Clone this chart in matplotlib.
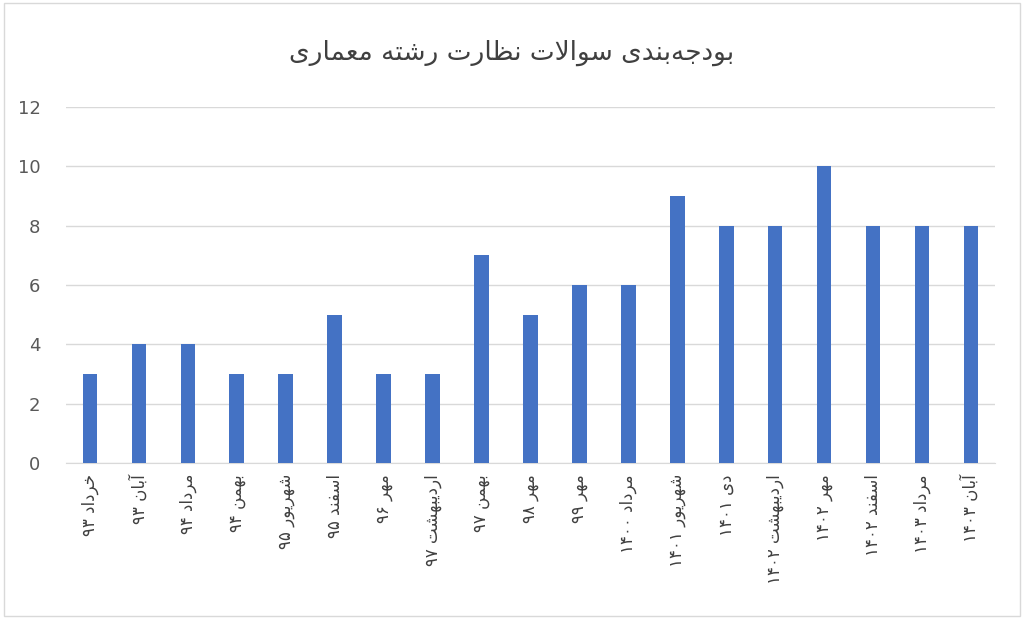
import matplotlib
matplotlib.use("Agg")
import matplotlib.pyplot as plt
from matplotlib.patches import Rectangle

labels = ["خرداد ۹۳", "آبان ۹۳", "مرداد ۹۴", "بهمن ۹۴", "شهریور ۹۵", "اسفند ۹۵", "مهر ۹۶",
          "اردیبهشت ۹۷", "بهمن ۹۷", "مهر ۹۸", "مهر ۹۹", "مرداد ۱۴۰۰", "شهریور ۱۴۰۱", "دی ۱۴۰۱",
          "اردیبهشت ۱۴۰۲", "مهر ۱۴۰۲", "اسفند ۱۴۰۲", "مرداد ۱۴۰۳", "آبان ۱۴۰۳"]
values = [3, 4, 4, 3, 3, 5, 3, 3, 7, 5, 6, 6, 9, 8, 8, 10, 8, 8, 8]
title = "بودجه\u200cبندی سوالات نظارت رشته معماری"

FORMS = {
    'ا': (0xFE8D, 0xFE8E, None, None), 'آ': (0xFE81, 0xFE82, None, None),
    'ب': (0xFE8F, 0xFE90, 0xFE91, 0xFE92), 'پ': (0xFB56, 0xFB57, 0xFB58, 0xFB59),
    'ت': (0xFE95, 0xFE96, 0xFE97, 0xFE98), 'ج': (0xFE9D, 0xFE9E, 0xFE9F, 0xFEA0),
    'خ': (0xFEA5, 0xFEA6, 0xFEA7, 0xFEA8), 'د': (0xFEA9, 0xFEAA, None, None),
    'ر': (0xFEAD, 0xFEAE, None, None), 'ز': (0xFEAF, 0xFEB0, None, None),
    'س': (0xFEB1, 0xFEB2, 0xFEB3, 0xFEB4), 'ش': (0xFEB5, 0xFEB6, 0xFEB7, 0xFEB8),
    'ظ': (0xFEC5, 0xFEC6, 0xFEC7, 0xFEC8), 'ع': (0xFEC9, 0xFECA, 0xFECB, 0xFECC),
    'ف': (0xFED1, 0xFED2, 0xFED3, 0xFED4), 'ل': (0xFEDD, 0xFEDE, 0xFEDF, 0xFEE0),
    'م': (0xFEE1, 0xFEE2, 0xFEE3, 0xFEE4), 'ن': (0xFEE5, 0xFEE6, 0xFEE7, 0xFEE8),
    'ه': (0xFEE9, 0xFEEA, 0xFEEB, 0xFEEC), 'و': (0xFEED, 0xFEEE, None, None),
    'ی': (0xFBFC, 0xFBFD, 0xFBFE, 0xFBFF),
    'ﻻ': (0xFEFB, 0xFEFC, None, None),
}

def shape_word(w):
    w = w.replace('لا', 'ﻻ')
    out = []
    for i, c in enumerate(w):
        if c not in FORMS:
            if c != '\u200c':
                out.append(c)
            continue
        prev = w[i - 1] if i > 0 else None
        nxt = w[i + 1] if i + 1 < len(w) else None
        jp = prev in FORMS and FORMS[prev][2] is not None
        jn = FORMS[c][2] is not None and nxt in FORMS
        f = FORMS[c]
        if jp and jn:
            code = f[3]
        elif jp:
            code = f[1]
        elif jn:
            code = f[2]
        else:
            code = f[0]
        out.append(chr(code))
    return ''.join(out)

def rtl(s):
    toks = []
    for t in s.split(' '):
        if t and all(ch in '۰۱۲۳۴۵۶۷۸۹0123456789' for ch in t):
            toks.append(t)
        else:
            toks.append(shape_word(t)[::-1])
    return ' '.join(toks[::-1])

plt.rcParams['font.family'] = ['DejaVu Sans']
fig = plt.figure(figsize=(10.24, 6.19), dpi=100)
ax = fig.add_axes([0.064, 0.252, 0.908, 0.575])
x = list(range(len(values)))
ax.bar(x, values, width=0.3, color='#4472C4', zorder=3)
ax.set_ylim(0, 12)
ax.set_yticks(range(0, 13, 2))
ax.set_xlim(-0.5, len(values) - 0.5)
ax.grid(axis='y', color='#d9d9d9', linewidth=1, zorder=0)
for s in ['top', 'right', 'left']:
    ax.spines[s].set_visible(False)
ax.spines['bottom'].set_color('#d9d9d9')
ax.tick_params(axis='y', length=0, labelsize=13, labelcolor='#595959', pad=18)
ax.tick_params(axis='x', length=0, pad=8)
ax.set_xticks(x)
ax.set_xticklabels([rtl(l) for l in labels], rotation=90, fontsize=12, color='#404040',
                   va='top', ha='center')
fig.text(0.5, 0.915, rtl(title), ha='center', va='center', fontsize=19, color='#404040')
fig.patches.append(Rectangle((0.004, 0.005), 0.992, 0.99, transform=fig.transFigure,
                             fill=False, edgecolor='#d9d9d9', linewidth=1))
fig.savefig('out.png', dpi=100)
